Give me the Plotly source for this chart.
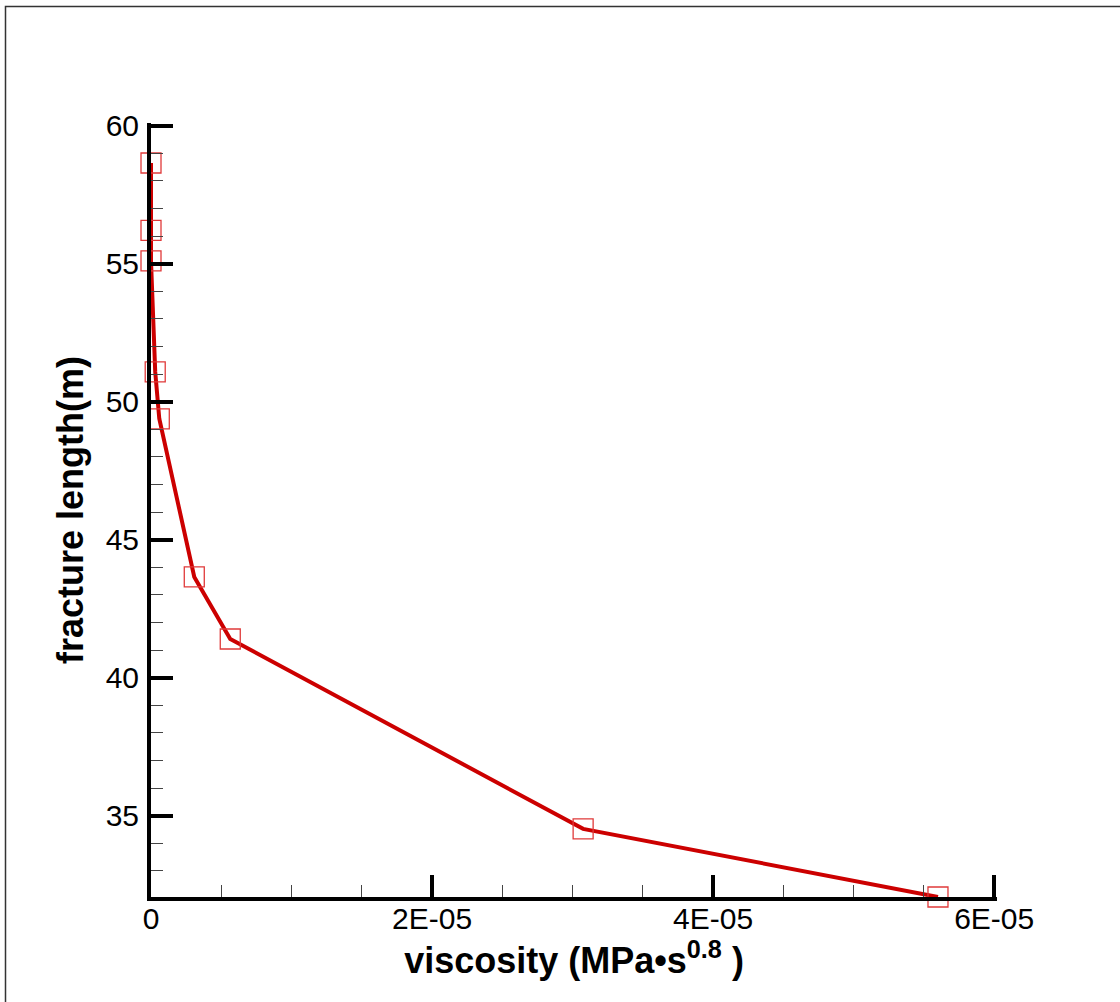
import plotly.graph_objects as go

viscosity = [0.0, 0.0, 0.0, 3.0e-7, 5.9e-7, 3.08e-6, 5.64e-6, 3.075e-5, 5.6e-5]
fracture_length = [58.65, 56.21, 55.10, 51.08, 49.38, 43.65, 41.40, 34.52, 32.05]

x_tickvals = [0, 2e-5, 4e-5, 6e-5]
x_ticktext = ["0", "2E-05", "4E-05", "6E-05"]
y_tickvals = [35, 40, 45, 50, 55, 60]
y_ticktext = ["35", "40", "45", "50", "55", "60"]

W, H = 1120, 1002
ML, MR, MT, MB = 151, 123, 123, 105
PW, PH = W - ML - MR, H - MT - MB

fig = go.Figure()
fig.add_trace(go.Scatter(
    x=viscosity, y=fracture_length, mode="lines+markers",
    line=dict(color="#CC0000", width=4),
    marker=dict(symbol="square-open", size=20, color="#E03A3A", line=dict(width=1.3, color="#E03A3A")),
    cliponaxis=False, showlegend=False,
))

font = "Liberation Sans, Arial, sans-serif"
fig.update_layout(
    width=W, height=H,
    margin=dict(l=ML, r=MR, t=MT, b=MB, autoexpand=False),
    paper_bgcolor="white", plot_bgcolor="white",
    font=dict(family=font, color="black", size=30),
    xaxis=dict(
        range=[0, 6.02e-5], showgrid=False, zeroline=False,
        showline=True, linecolor="black", linewidth=4,
        ticks="inside", ticklen=22, tickwidth=3.5, tickcolor="black",
        tickvals=x_tickvals, ticktext=x_ticktext, ticklabelstandoff=-8,
        tickfont=dict(size=30),
        minor=dict(ticks="inside", dtick=5e-6, tick0=0, ticklen=12, tickwidth=1.3, tickcolor="#444"),
        title=dict(text="<b>viscosity (MPa•s<sup>0.8</sup> )</b>", font=dict(size=36), standoff=0),
        automargin=False,
    ),
    yaxis=dict(
        range=[32.05, 60.1], showgrid=False, zeroline=False,
        showline=True, linecolor="black", linewidth=4,
        ticks="inside", ticklen=22, tickwidth=3.5, tickcolor="black",
        tickvals=y_tickvals, ticktext=y_ticktext, ticklabelstandoff=2,
        tickfont=dict(size=30),
        minor=dict(ticks="inside", dtick=1, tick0=0, ticklen=12, tickwidth=1.3, tickcolor="#444"),
        title=dict(text="<b>fracture length(m)</b>", font=dict(size=36), standoff=12),
        automargin=False,
    ),
    shapes=[dict(
        type="rect", xref="paper", yref="paper",
        x0=(5.5 - ML) / PW, x1=(W + 10 - ML) / PW,
        y0=-(H + 10 - MT - PH) / PH, y1=(MT + PH - 6.5) / PH,
        line=dict(color="#333", width=1.5), fillcolor="rgba(0,0,0,0)", layer="below",
    )],
)
fig.write_html("out.html")
